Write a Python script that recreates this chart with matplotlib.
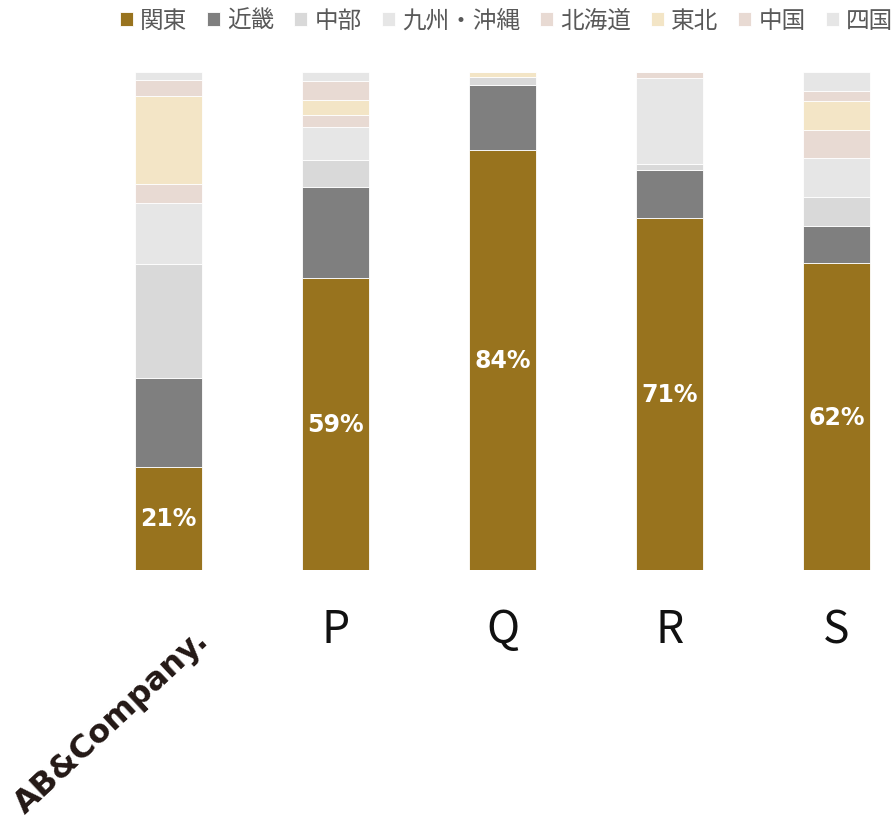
import matplotlib.pyplot as plt
import numpy as np

plt.rcParams['font.family'] = ['Noto Sans CJK JP', 'DejaVu Sans']

# share of each region per company (%), bottom to top
regions = ["関東", "近畿", "中部", "九州・沖縄", "北海道", "東北", "中国", "四国"]
companies = ["AB&Company", "P", "Q", "R", "S"]
kanto = [20.7, 58.6, 84.3, 70.7, 61.6]
kinki = [17.9, 18.3, 13.1, 9.7, 7.5]
chubu = [22.9, 5.5, 1.6, 1.1, 5.8]
kyushu = [12.2, 6.5, 0.0, 17.3, 7.8]
hokkaido = [3.8, 2.5, 0.0, 1.2, 5.7]
tohoku = [17.7, 2.9, 0.9, 0.0, 5.8]
chugoku = [3.2, 3.8, 0.0, 0.0, 1.9]
shikoku = [1.6, 1.8, 0.0, 0.0, 4.0]
kanto_labels = ["21%", "59%", "84%", "71%", "62%"]

series = [kanto, kinki, chubu, kyushu, hokkaido, tohoku, chugoku, shikoku]
colors = ["#98731E", "#7F7F7F", "#D9D9D9", "#E6E6E6",
          "#E8DAD3", "#F3E5C6", "#E8DAD3", "#E6E6E6"]

fig = plt.figure(figsize=(8.95, 8.2), dpi=100)
ax = fig.add_axes([85 / 895, 1 - 571 / 820, 810 / 895, 498 / 820])

x = np.arange(len(companies))
bottom = np.zeros(len(companies))
for name, vals, c in zip(regions, series, colors):
    vals = np.array(vals)
    ax.bar(x, vals, 0.4, bottom=bottom, color=c, label=name,
           edgecolor="white", linewidth=0.6)
    bottom += vals

# percentage labels in the middle of the Kanto segment
for i, v in enumerate(kanto):
    ax.text(x[i], v / 2, kanto_labels[i], ha="center", va="center",
            color="white", fontsize=17, fontweight="bold",
            family="DejaVu Sans")

ax.set_xlim(-0.5, 4.35)
ax.set_ylim(0, 100)
ax.set_xticks(x[1:])
ax.set_xticklabels(companies[1:], fontsize=32, color="#111111")
ax.tick_params(axis="x", length=0, pad=26)
ax.set_yticks([])
for s in ax.spines.values():
    s.set_visible(False)

# company logo in place of the first tick label
fig.text(112 / 895, 1 - 722 / 820, "AB&Company.", rotation=43,
         ha="center", va="center", fontsize=23, fontweight="bold",
         family="DejaVu Sans", color="#231815", rotation_mode="anchor")

fig.legend(loc="upper left", bbox_to_anchor=(103 / 895, 1.008), ncol=8,
           frameon=False, fontsize=17, handlelength=0.55, handleheight=0.55,
           handletextpad=0.3, columnspacing=0.85, labelcolor="#595959",
           borderaxespad=0.3)

fig.savefig("out.png", dpi=100)
